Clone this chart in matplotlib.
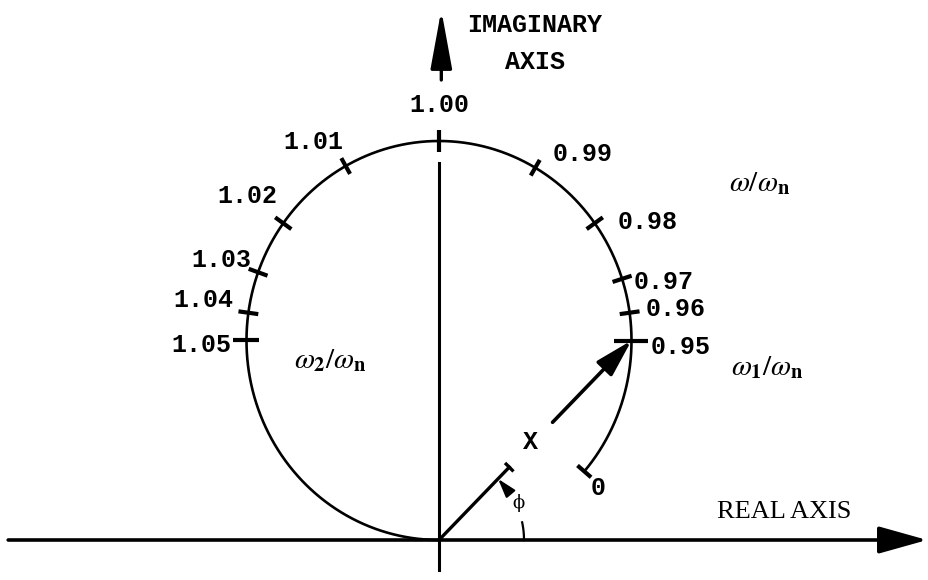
import numpy as np
import matplotlib
matplotlib.use("Agg")
import matplotlib.pyplot as plt

plt.rcParams["mathtext.fontset"] = "stix"

# frequency ratio marks around the response circle
ratio_labels = ["0.95", "0.96", "0.97", "0.98", "0.99", "1.00",
                "1.01", "1.02", "1.03", "1.04", "1.05"]
tick_angles = [0, 8, 18, 36, 60, 90, 119, 144, 160, 172, 180]   # deg about circle centre
arc_start = -41          # deg, where the curve begins (omega = 0)
phi_deg = 45             # phase of the response vector X at omega_1

# layout (pixels)
tick_len = [34, 20, 20, 20, 18, 22, 18, 20, 20, 20, 26]
label_off = [(49, -7), (46, 4), (42, -3), (53, 1), (47, 14), (0, 36),
             (-32, 24), (-36, 27), (-37, 12), (-45, 13), (-45, -5)]

SX, SY = 385.0, 399.0    # px per unit
R = 0.5
MONO = "Liberation Mono"
FS = 18

fig = plt.figure(figsize=(9.29, 5.80), dpi=100)
ax = fig.add_axes([0, 0, 1, 1])
ax.set_xlim(-439 / SX, 490 / SX)
ax.set_ylim(-40 / SY, 540 / SY)
ax.axis("off")

def on_circle(a):
    t = np.radians(a)
    return R * np.cos(t), R + R * np.sin(t)

def radial_bar(a, length, lw=3.0):
    x, y = on_circle(a)
    t = np.radians(a)
    h = length / 2
    ax.plot([x - h * np.cos(t) / SX, x + h * np.cos(t) / SX],
            [y - h * np.sin(t) / SY, y + h * np.sin(t) / SY],
            color="black", lw=lw, solid_capstyle="butt")

# response circle, open from omega = 0 up to the origin
th = np.radians(np.linspace(arc_start, 270, 500))
ax.plot(R * np.cos(th), R + R * np.sin(th), color="black", lw=1.9)
radial_bar(arc_start, 18)

for lab, a, L, off in zip(ratio_labels, tick_angles, tick_len, label_off):
    radial_bar(a, L)
    x, y = on_circle(a)
    ax.annotate(lab, (x, y), xytext=off, textcoords="offset pixels",
                ha="center", va="center", fontsize=FS, family=MONO,
                fontweight="bold")

# real axis
ax.annotate("", xy=(1.268, 0), xytext=(-1.119, 0),
            arrowprops=dict(arrowstyle="-|>,head_length=1.5,head_width=0.42",
                            mutation_scale=20, lw=2.6, color="black",
                            shrinkA=0, shrinkB=0))
# imaginary axis
ax.plot([0, 0], [(540 - 163) / SY, -30 / SY], color="black", lw=2.2)
ax.annotate("", xy=(0.006, 530 / SY), xytext=(0.006, 460 / SY),
            arrowprops=dict(arrowstyle="-|>,head_length=1.8,head_width=0.33",
                            mutation_scale=20, lw=2.4, color="black",
                            shrinkA=0, shrinkB=0))

# response vector X from the origin to the omega_1 point
px, py = on_circle(tick_angles[0])
t1, t2 = 0.365, 0.59
ax.plot([0, t1 * px], [0, t1 * py], color="black", lw=2.4)
ux, uy = -np.sin(np.radians(phi_deg)), np.cos(np.radians(phi_deg))
ax.plot([t1 * px - 6 * ux / SX, t1 * px + 6 * ux / SX],
        [t1 * py - 6 * uy / SY, t1 * py + 6 * uy / SY],
        color="black", lw=2.4, solid_capstyle="butt")
ax.annotate("", xy=(px, py), xytext=(t2 * px, t2 * py),
            arrowprops=dict(arrowstyle="-|>,head_length=1.15,head_width=0.32",
                            mutation_scale=20, lw=2.6, color="black",
                            shrinkA=0, shrinkB=0))

# phase angle phi
rp = 85
pa = np.radians(np.linspace(0, 12, 30))
ax.plot(rp * np.cos(pa) / SX, rp * np.sin(pa) / SY, color="black", lw=1.6)
a0, a1 = np.radians(34), np.radians(46)
ax.annotate("", xy=(rp * np.cos(a1) / SX, rp * np.sin(a1) / SY),
            xytext=(rp * np.cos(a0) / SX, rp * np.sin(a0) / SY),
            arrowprops=dict(arrowstyle="-|>,head_length=0.8,head_width=0.25",
                            mutation_scale=14, lw=1.6, color="black",
                            shrinkA=0, shrinkB=0))
ap = np.radians(25)
ax.text(88 * np.cos(ap) / SX, 88 * np.sin(ap) / SY, "\u03d5", fontsize=13,
        ha="center", va="center", family="DejaVu Serif")

# text labels
ax.text(96 / SX, 515 / SY, "IMAGINARY", fontsize=FS, family=MONO,
        fontweight="bold", ha="center", va="center")
ax.text(96 / SX, 478 / SY, "AXIS", fontsize=FS, family=MONO,
        fontweight="bold", ha="center", va="center")
ax.text(345 / SX, 28 / SY, "REAL AXIS", fontsize=19, family="Liberation Serif",
        ha="center", va="center")
ax.text(92 / SX, 98 / SY, "X", fontsize=FS, family=MONO, fontweight="bold",
        ha="center", va="center")
ax.text(159 / SX, 52 / SY, "0", fontsize=FS, family=MONO, fontweight="bold",
        ha="center", va="center")

ax.text(321 / SX, 357 / SY, r"$\omega/\omega_{\mathbf{n}}$", fontsize=21,
        ha="center", va="center")
ax.text(328 / SX, 173 / SY, r"$\omega_{\mathbf{1}}/\omega_{\mathbf{n}}$",
        fontsize=21, ha="center", va="center")
ax.text(-109 / SX, 180 / SY, r"$\omega_{\mathbf{2}}/\omega_{\mathbf{n}}$",
        fontsize=21, ha="center", va="center")

fig.savefig("out.png", dpi=100)
